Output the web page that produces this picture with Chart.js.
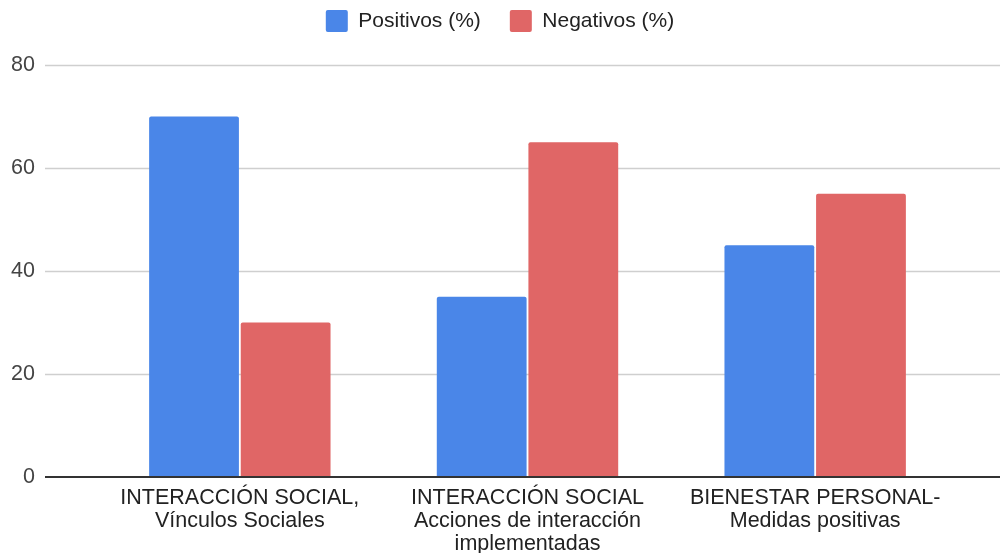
<!DOCTYPE html>
<html lang="es">
<head>
  <meta charset="UTF-8">
  <title>Positivos / Negativos</title>
  <script src="https://cdn.jsdelivr.net/npm/chart.js"></script>
  <style>
    html, body { margin: 0; padding: 0; background: #fff; }
    #wrap { width: 1000px; height: 553px; }
  </style>
</head>
<body>
  <div id="wrap"><canvas id="grafico"></canvas></div>

  <script>
    // datos
    const categorias = [
      ['INTERACCIÓN SOCIAL,', 'Vínculos Sociales'],
      ['INTERACCIÓN SOCIAL', 'Acciones de interacción', 'implementadas'],
      ['BIENESTAR PERSONAL-', 'Medidas positivas']
    ];
    const positivos = [70, 35, 45];
    const negativos = [30, 65, 55];
    const ticksY = [0, 20, 40, 60, 80];

    const fuente = "'Liberation Sans', Arial, sans-serif";

    // líneas de cuadrícula a lo ancho de todo el lienzo, como en el original
    const cuadricula = {
      id: 'cuadricula',
      afterInit(chart) {
        // más aire debajo de la leyenda
        const fitOrig = chart.legend.fit;
        chart.legend.fit = function () {
          fitOrig.call(this);
          this.height += 23;
        };
      },
      beforeDatasetsDraw(chart) {
        const y = chart.scales.y;
        const ctx = chart.ctx;
        ctx.save();
        ctx.strokeStyle = '#cfcfcf';
        ctx.lineWidth = 1.5;
        ticksY.forEach(v => {
          if (v === 0) return;
          const py = Math.round(y.getPixelForValue(v)) + 0.5;
          ctx.beginPath();
          ctx.moveTo(45, py);
          ctx.lineTo(chart.width, py);
          ctx.stroke();
        });
        ctx.restore();
      },
      afterDatasetsDraw(chart) {
        const y = chart.scales.y;
        const ctx = chart.ctx;
        const py = y.getPixelForValue(0);
        ctx.save();
        ctx.strokeStyle = '#333333';
        ctx.lineWidth = 2;
        ctx.beginPath();
        ctx.moveTo(45, py);
        ctx.lineTo(chart.width, py);
        ctx.stroke();
        ctx.restore();
      }
    };

    new Chart(document.getElementById('grafico'), {
      type: 'bar',
      data: {
        labels: categorias,
        datasets: [
          {
            label: 'Positivos (%)',
            data: positivos,
            backgroundColor: '#4a86e8',
            borderRadius: 2,
            categoryPercentage: 0.637,
            barPercentage: 0.98
          },
          {
            label: 'Negativos (%)',
            data: negativos,
            backgroundColor: '#e06666',
            borderRadius: 2,
            categoryPercentage: 0.637,
            barPercentage: 0.98
          }
        ]
      },
      options: {
        responsive: true,
        maintainAspectRatio: false,
        animation: false,
        layout: { padding: { top: -19, left: 0, right: 0, bottom: 0 } },
        scales: {
          x: {
            grid: { display: false, drawTicks: false },
            border: { display: false },
            ticks: {
              color: '#222',
              padding: 10,
              maxRotation: 0,
              autoSkip: false,
              font: { family: fuente, size: 21.5, lineHeight: 1.06 }
            },
            afterFit(scale) { scale.height = 76; }
          },
          y: {
            min: 0,
            max: 80,
            // marcas invisibles: solo empujan las etiquetas a la izquierda
            grid: { display: false, drawTicks: true, tickLength: 55 },
            border: { display: false },
            ticks: {
              stepSize: 20,
              color: '#444',
              padding: 6,
              font: { family: fuente, size: 21.5 }
            },
            afterFit(scale) { scale.width = 96; }
          },
          // eje vacío a la derecha, solo para reservar el margen
          margen: {
            position: 'right',
            display: true,
            grid: { display: false, drawTicks: false },
            border: { display: false },
            ticks: { display: false },
            afterFit(scale) { scale.width = 41; }
          }
        },
        plugins: {
          legend: {
            position: 'top',
            labels: {
              color: '#222',
              boxWidth: 22,
              boxHeight: 22,
              padding: 29,
              font: { family: fuente, size: 21 },
              useBorderRadius: true,
              borderRadius: 2,
              generateLabels(chart) {
                const items = Chart.defaults.plugins.legend.labels.generateLabels(chart);
                items.forEach(it => { it.lineWidth = 0; });
                return items;
              }
            }
          },
          tooltip: { enabled: false }
        }
      },
      plugins: [cuadricula]
    });
  </script>
</body>
</html>
